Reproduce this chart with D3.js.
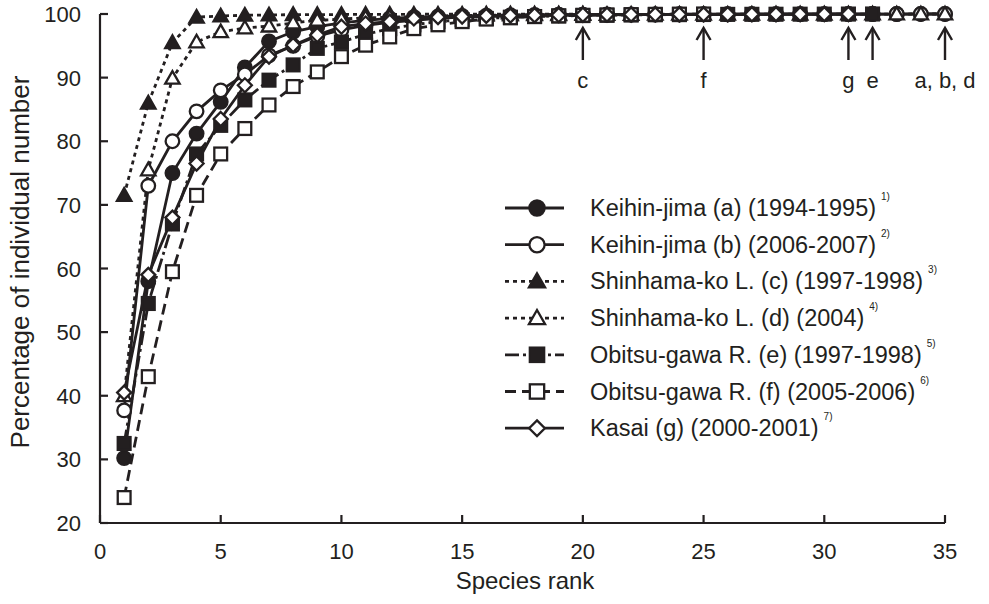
<!DOCTYPE html>
<html>
<head>
<meta charset="utf-8">
<script src="https://cdn.jsdelivr.net/npm/d3@7"></script>
<style>
  html, body { margin: 0; padding: 0; background: #fff; }
  svg { display: block; }
</style>
</head>
<body>
<div id="chart"></div>
<script>
// 累積個体数割合 vs 種順位（7 地点）
const ranks = d3.range(1, 36);
const seriesA = [30.2, 58, 75, 81.2, 86.2, 91.6, 95.7, 97.2, 98, 98.6, 99, 99.3, 99.5, 99.6, 99.7, 99.75, 99.8, 99.85, 99.9, 99.9, 99.92, 99.93, 99.94, 99.95, 99.96, 99.96, 99.97, 99.97, 99.98, 99.98, 99.99, 99.99, 99.99, 100, 100];
const seriesB = [37.7, 73, 80, 84.7, 88, 90.5, 93.5, 95, 96.5, 97.5, 98.2, 98.7, 99, 99.3, 99.5, 99.6, 99.7, 99.75, 99.8, 99.85, 99.88, 99.9, 99.92, 99.93, 99.94, 99.95, 99.96, 99.97, 99.97, 99.98, 99.98, 99.99, 99.99, 100, 100];
const seriesC = [71.5, 86, 95.5, 99.5, 99.7, 99.8, 99.85, 99.9, 99.9, 99.92, 99.94, 99.95, 99.96, 99.97, 99.97, 99.98, 99.98, 99.99, 99.99, 100];
const seriesD = [40, 75.5, 89.9, 95.6, 97.2, 97.8, 98.1, 98.6, 99, 99.2, 99.4, 99.5, 99.6, 99.7, 99.75, 99.8, 99.85, 99.88, 99.9, 99.92, 99.93, 99.94, 99.95, 99.96, 99.96, 99.97, 99.97, 99.98, 99.98, 99.98, 99.99, 99.99, 99.99, 100, 100];
const seriesE = [32.5, 54.5, 67, 78, 82.5, 86.5, 89.6, 92, 94.6, 95.6, 96.8, 97.7, 98.3, 98.8, 99.1, 99.3, 99.5, 99.6, 99.7, 99.75, 99.8, 99.85, 99.88, 99.9, 99.92, 99.94, 99.95, 99.96, 99.97, 99.98, 99.99, 100];
const seriesF = [24, 43, 59.5, 71.5, 78, 82, 85.7, 88.6, 90.9, 93.3, 95.1, 96.4, 97.7, 98.3, 98.8, 99.2, 99.4, 99.6, 99.7, 99.8, 99.85, 99.9, 99.95, 99.98, 100];
const seriesG = [40.5, 59, 68, 76.5, 83.5, 88.8, 93.3, 95.1, 96.7, 98, 98.5, 98.8, 99.3, 99.5, 99.6, 99.7, 99.75, 99.8, 99.85, 99.88, 99.9, 99.92, 99.93, 99.94, 99.95, 99.96, 99.97, 99.98, 99.99, 99.99, 100];

const legendNames = [
  "Keihin-jima (a) (1994-1995)", "Keihin-jima (b) (2006-2007)",
  "Shinhama-ko L. (c) (1997-1998)", "Shinhama-ko L. (d) (2004)",
  "Obitsu-gawa R. (e) (1997-1998)", "Obitsu-gawa R. (f) (2005-2006)",
  "Kasai (g) (2000-2001)"];
const legendRefs = ["1)", "2)", "3)", "4)", "5)", "6)", "7)"];
const xTicks = [0, 5, 10, 15, 20, 25, 30, 35];
const yTicks = [20, 30, 40, 50, 60, 70, 80, 90, 100];
// 各系列の最終種順位を示す矢印
const endArrows = [
  { rank: 20, label: "c" }, { rank: 25, label: "f" }, { rank: 31, label: "g" },
  { rank: 32, label: "e" }, { rank: 35, label: "a, b, d" }];

const W = 989, H = 604;
const FONT = "Liberation Sans, Arial, Helvetica, sans-serif";
const INK = "#231f20";

// 系列ごとの記号・線種
const STY = [
  { vals: seriesA, sym: "circle", fill: INK, dash: null },
  { vals: seriesB, sym: "circle", fill: "#fff", dash: null },
  { vals: seriesC, sym: "triangle", fill: INK, dash: "4,4" },
  { vals: seriesD, sym: "triangle", fill: "#fff", dash: "4,4" },
  { vals: seriesE, sym: "square", fill: INK, dash: "14,4,3,4" },
  { vals: seriesF, sym: "square", fill: "#fff", dash: "11,6" },
  { vals: seriesG, sym: "diamond", fill: "#fff", dash: null },
];

const x = d3.scaleLinear().domain([0, 35]).range([100, 945]);
const y = d3.scaleLinear().domain([20, 100]).range([523, 14]);

const svg = d3.select("#chart").append("svg")
  .attr("width", W).attr("height", H).attr("viewBox", `0 0 ${W} ${H}`);

function marker(g, sym, fill, cx, cy, k = 1) {
  const sw = 2.3;
  if (sym === "circle") {
    g.append("circle").attr("cx", cx).attr("cy", cy).attr("r", 6.8 * k)
      .attr("fill", fill).attr("stroke", INK).attr("stroke-width", sw);
  } else if (sym === "square") {
    const s = 6.4 * k;
    g.append("rect").attr("x", cx - s).attr("y", cy - s).attr("width", 2 * s).attr("height", 2 * s)
      .attr("fill", fill).attr("stroke", INK).attr("stroke-width", sw);
  } else if (sym === "triangle") {
    const s = 7.2 * k;
    g.append("path").attr("d", `M${cx},${cy - s}L${cx + s},${cy + s * 0.75}L${cx - s},${cy + s * 0.75}Z`)
      .attr("fill", fill).attr("stroke", INK).attr("stroke-width", sw).attr("stroke-linejoin", "miter");
  } else {
    const s = 7 * k;
    g.append("path").attr("d", `M${cx},${cy - s}L${cx + s},${cy}L${cx},${cy + s}L${cx - s},${cy}Z`)
      .attr("fill", fill).attr("stroke", INK).attr("stroke-width", sw);
  }
}

// 系列の線と記号
const line = d3.line().x((v, i) => x(ranks[i])).y(v => y(v));
STY.forEach(s => {
  svg.append("path").attr("d", line(s.vals)).attr("fill", "none")
    .attr("stroke", INK).attr("stroke-width", 2.8)
    .attr("stroke-dasharray", s.dash);
});
STY.forEach(s => {
  const g = svg.append("g");
  s.vals.forEach((v, i) => marker(g, s.sym, s.fill, x(ranks[i]), y(v)));
});

// 軸（目盛りは内向き）
const tickStyle = `font:22px ${FONT};fill:${INK}`;
svg.append("line").attr("x1", x(0)).attr("x2", x(0)).attr("y1", y(100)).attr("y2", y(20))
  .attr("stroke", INK).attr("stroke-width", 2.2);
svg.append("line").attr("x1", x(0)).attr("x2", x(35)).attr("y1", y(20)).attr("y2", y(20))
  .attr("stroke", INK).attr("stroke-width", 2.2);
yTicks.forEach(v => {
  svg.append("line").attr("x1", x(0)).attr("x2", x(0) + 8).attr("y1", y(v)).attr("y2", y(v))
    .attr("stroke", INK).attr("stroke-width", 2.2);
  svg.append("text").attr("x", x(0) - 19).attr("y", y(v) + 8).attr("text-anchor", "end")
    .attr("style", tickStyle).text(v);
});
xTicks.forEach(v => {
  svg.append("line").attr("x1", x(v)).attr("x2", x(v)).attr("y1", y(20)).attr("y2", y(20) - 8)
    .attr("stroke", INK).attr("stroke-width", 2.2);
  svg.append("text").attr("x", x(v)).attr("y", y(20) + 36).attr("text-anchor", "middle")
    .attr("style", tickStyle).text(v);
});
svg.append("text").attr("x", 525).attr("y", 589).attr("text-anchor", "middle")
  .attr("style", `font:24px ${FONT};fill:${INK}`).text("Species rank");
svg.append("text").attr("transform", `translate(29,262) rotate(-90)`)
  .attr("text-anchor", "middle")
  .attr("style", `font:26px ${FONT};fill:${INK}`).text("Percentage of individual number");

// 終点の矢印
endArrows.forEach(a => {
  const ax = x(a.rank);
  svg.append("line").attr("x1", ax).attr("x2", ax).attr("y1", 60).attr("y2", 30)
    .attr("stroke", INK).attr("stroke-width", 2.4);
  svg.append("path").attr("d", `M${ax - 7},${40}L${ax},${28}L${ax + 7},${40}`)
    .attr("fill", "none").attr("stroke", INK).attr("stroke-width", 2.4);
  svg.append("text").attr("x", ax).attr("y", 88).attr("text-anchor", "middle")
    .attr("style", tickStyle).text(a.label);
});

// 凡例
const LX = 505, LY = 208, LDY = 36.7;
STY.forEach((s, i) => {
  const ly = LY + i * LDY;
  const g = svg.append("g");
  g.append("line").attr("x1", LX).attr("x2", LX + 59).attr("y1", ly).attr("y2", ly)
    .attr("stroke", INK).attr("stroke-width", 2.8).attr("stroke-dasharray", s.dash);
  marker(g, s.sym, s.fill, LX + 32, ly, 1.12);
  const t = g.append("text").attr("x", 590).attr("y", ly + 8)
    .attr("style", `font:23.5px ${FONT};fill:${INK}`).text(legendNames[i]);
  const tw = t.node().getComputedTextLength();
  g.append("text").attr("x", 590 + tw + 5).attr("y", ly - 8)
    .attr("style", `font:10px ${FONT};fill:${INK}`).text(legendRefs[i]);
});
</script>
</body>
</html>
